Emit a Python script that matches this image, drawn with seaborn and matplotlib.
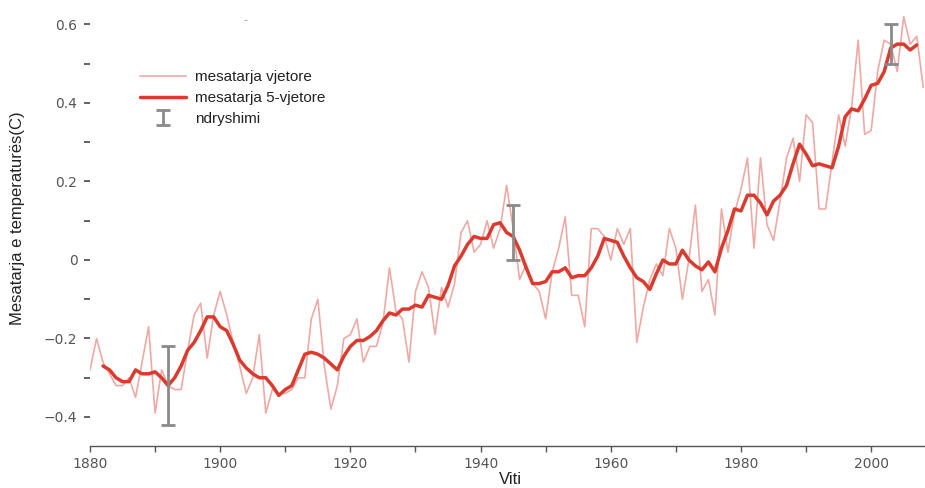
import matplotlib
matplotlib.use("Agg")
import matplotlib.pyplot as plt
import numpy as np
import pandas as pd
import seaborn as sns
from matplotlib.ticker import FixedLocator, FixedFormatter

# ---------------- data ----------------
years = list(range(1880, 2009))
annual = [
    -0.28, -0.20, -0.26, -0.29, -0.32, -0.32, -0.30, -0.35, -0.26, -0.17,
    -0.39, -0.28, -0.32, -0.33, -0.33, -0.23, -0.14, -0.11, -0.25, -0.14,
    -0.08, -0.14, -0.21, -0.27, -0.34, -0.30, -0.19, -0.39, -0.33, -0.34,
    -0.34, -0.33, -0.30, -0.30, -0.15, -0.10, -0.27, -0.38, -0.32, -0.20,
    -0.19, -0.15, -0.26, -0.22, -0.22, -0.16, -0.02, -0.13, -0.15, -0.26,
    -0.08, -0.03, -0.07, -0.19, -0.07, -0.12, -0.06, 0.07, 0.10, 0.02,
    0.04, 0.10, 0.03, 0.08, 0.19, 0.08, -0.05, -0.01, -0.06, -0.08,
    -0.15, -0.03, 0.03, 0.11, -0.09, -0.09, -0.17, 0.08, 0.08, 0.06,
    0.00, 0.08, 0.04, 0.08, -0.21, -0.12, -0.05, -0.01, -0.04, 0.08,
    0.03, -0.10, 0.00, 0.14, -0.08, -0.05, -0.14, 0.13, 0.02, 0.12,
    0.18, 0.26, 0.03, 0.26, 0.09, 0.05, 0.15, 0.26, 0.31, 0.20,
    0.37, 0.35, 0.13, 0.13, 0.25, 0.37, 0.29, 0.39, 0.56, 0.32,
    0.33, 0.48, 0.56, 0.55, 0.48, 0.62, 0.55, 0.57, 0.44,
]

five_years = list(range(1882, 2008))
five_mean = [
    -0.27, -0.28, -0.30, -0.31, -0.31, -0.28, -0.29, -0.29,
    -0.285, -0.30, -0.32, -0.30, -0.27, -0.23, -0.21, -0.18, -0.145, -0.145,
    -0.17, -0.18, -0.215, -0.255, -0.275, -0.29, -0.30, -0.30, -0.32, -0.345,
    -0.33, -0.32, -0.28, -0.24, -0.235, -0.24, -0.25, -0.265, -0.28, -0.245,
    -0.22, -0.205, -0.205, -0.195, -0.18, -0.155, -0.135, -0.14, -0.125, -0.125,
    -0.115, -0.12, -0.09, -0.095, -0.10, -0.065, -0.015, 0.01, 0.04, 0.06,
    0.055, 0.055, 0.09, 0.095, 0.07, 0.06, 0.025, -0.02, -0.06, -0.06,
    -0.055, -0.03, -0.03, -0.02, -0.045, -0.04, -0.04, -0.02, 0.01, 0.055,
    0.05, 0.045, 0.01, -0.02, -0.045, -0.055, -0.075, -0.035, 0.0, -0.01,
    -0.01, 0.025, 0.0, -0.015, -0.025, -0.005, -0.03, 0.03, 0.075, 0.13,
    0.125, 0.165, 0.165, 0.145, 0.115, 0.15, 0.165, 0.19, 0.245, 0.295,
    0.27, 0.24, 0.245, 0.24, 0.235, 0.29, 0.365, 0.385, 0.38, 0.41,
    0.445, 0.45, 0.48, 0.54, 0.55, 0.55, 0.535, 0.548,
]

err_years = [1892, 1945, 2003]
err_center = [-0.32, 0.07, 0.55]
err_half = [0.10, 0.07, 0.05]

series_labels = ["mesatarja vjetore", "mesatarja 5-vjetore", "ndryshimi"]
y_ticks = [-0.4, -0.2, 0.0, 0.2, 0.4, 0.6]
y_tick_labels = ["\u22120.4", "\u22120.2", "0", "0.2", "0.4", "0.6"]
y_minor = [-0.3, -0.1, 0.1, 0.3, 0.5]
x_ticks = [1880, 1900, 1920, 1940, 1960, 1980, 2000]
x_tick_labels = ["1880", "1900", "1920", "1940", "1960", "1980", "2000"]
x_minor = [1890, 1910, 1930, 1950, 1970, 1990]

# ---------------- style ----------------
sns.set_style("white")
plt.rcParams["font.family"] = ["DejaVu Sans"]

thin_color = "#eea9a5"
thick_color = "#da3b2f"
err_color = "#8a8a8a"
tick_color = "#555555"

W, H = 925, 488
fig = plt.figure(figsize=(W / 100, H / 100), dpi=100)
ax = fig.add_axes([90 / W, 42 / H, 835 / W, 446 / H])

df_a = pd.DataFrame({"year": years, "temp": annual})
df_f = pd.DataFrame({"year": five_years, "temp": five_mean})

sns.lineplot(data=df_a, x="year", y="temp", ax=ax, color=thin_color,
             linewidth=1.2, label=series_labels[0])
sns.lineplot(data=df_f, x="year", y="temp", ax=ax, color=thick_color,
             linewidth=2.5, label=series_labels[1])
eb = ax.errorbar(err_years, err_center, yerr=err_half, fmt="none",
                 ecolor=err_color, elinewidth=2, capsize=5, capthick=2,
                 label=series_labels[2])

ax.set_xlim(1880, 2008.27)
ax.set_ylim(-0.4739, 0.6624)

for s in ["left", "top", "right"]:
    ax.spines[s].set_visible(False)
ax.spines["bottom"].set_color(tick_color)
ax.spines["bottom"].set_linewidth(1.0)

ax.xaxis.set_major_locator(FixedLocator(x_ticks))
ax.xaxis.set_major_formatter(FixedFormatter(x_tick_labels))
ax.xaxis.set_minor_locator(FixedLocator(x_minor))
ax.yaxis.set_major_locator(FixedLocator(y_ticks))
ax.yaxis.set_major_formatter(FixedFormatter(y_tick_labels))
ax.yaxis.set_minor_locator(FixedLocator(y_minor))

ax.tick_params(axis="x", which="both", direction="out", length=4, width=1,
               color=tick_color, labelcolor=tick_color, labelsize=10, pad=4,
               bottom=True)
ax.tick_params(axis="y", which="both", direction="out", length=4, width=1.3,
               color=tick_color, labelcolor=tick_color, labelsize=10, pad=5,
               left=True)
ax.set_xlabel("")
ax.set_ylabel("")

fig.text(18 / W, 1 - 218 / H, "Mesatarja e temperaturës(C)", rotation=90,
         ha="center", va="center", fontsize=12, color="#222222",
         family=["Liberation Sans", "DejaVu Sans"])
fig.text(510 / W, 1 - 480 / H, "Viti", ha="center", va="center",
         fontsize=12, color="#222222", family=["Liberation Sans", "DejaVu Sans"])
# small grey dash present near the top of the reference
fig.text(245 / W, 1 - 20 / H, "-", ha="center", va="center",
         fontsize=8, color="#999999")

handles, labels = ax.get_legend_handles_labels()
order = [labels.index(l) for l in series_labels]
leg = ax.legend([handles[i] for i in order], [labels[i] for i in order],
                loc="upper left", bbox_to_anchor=(140 / W, 1 - 70 / H),
                bbox_transform=fig.transFigure, frameon=False,
                borderpad=0, borderaxespad=0, handlelength=3.0,
                handletextpad=0.6, labelspacing=0.45,
                prop={"family": "Liberation Sans", "size": 11})
for t in leg.get_texts():
    t.set_color("#222222")

fig.savefig("out.png", dpi=100)
